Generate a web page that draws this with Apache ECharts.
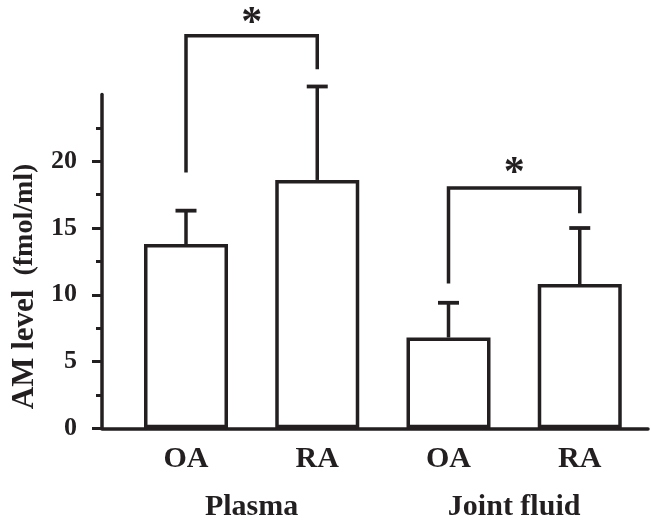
<!DOCTYPE html>
<html>
<head>
<meta charset="utf-8">
<script src="https://cdn.jsdelivr.net/npm/echarts@6/dist/echarts.min.js"></script>
<style>
html,body{margin:0;padding:0;background:#fff;}
#chart{width:651px;height:523px;}
</style>
</head>
<body>
<div id="chart"></div>
<script>
// ---- data ----
const categories = ['OA', 'RA', 'OA', 'RA'];
const categoryPos = [1, 2, 3, 4];
const groups = ['Plasma', 'Joint fluid'];
const groupPos = [1.5, 3.5];
const means = [13.8, 18.6, 6.8, 10.8];
const upperError = [16.3, 25.6, 9.4, 15.0];
const yTickLabels = [0, 5, 10, 15, 20];
// significance brackets
const bracketFrom = [1, 3];
const bracketTo = [2, 4];
const bracketTop = [29.4, 18.0];
const bracketLeftEnd = [19.15, 10.85];
const bracketRightEnd = [26.9, 16.1];
const starY = [30.3, 19.0];
const starText = ['*', '*'];

const INK = '#231f20';
const FONT = 'Liberation Serif';

const barData = categoryPos.map((x, i) => [x, means[i]]);
const errData = categoryPos.map((x, i) => [x, means[i], upperError[i]]);
const bracketData = bracketFrom.map((x, i) => [x, bracketTo[i], bracketTop[i], bracketLeftEnd[i], bracketRightEnd[i], starY[i]]);

const chart = echarts.init(document.getElementById('chart'));
const xMin = 0.36, xMax = 4.52;

chart.setOption({
  animation: false,
  backgroundColor: '#fff',
  grid: { left: 102, right: 3, top: 94.5, bottom: 94.7, outerBoundsMode: 'none' },
  xAxis: [
    {
      type: 'value', min: xMin, max: xMax, position: 'bottom',
      axisLine: { show: true, onZero: false, lineStyle: { color: INK, width: 3.5 } },
      axisTick: { show: false },
      splitLine: { show: false },
      axisLabel: {
        customValues: categoryPos,
        formatter: v => categories[categoryPos.indexOf(Math.round(v))],
        margin: 16, color: INK, fontFamily: FONT, fontWeight: 'bold', fontSize: 30
      }
    },
    {
      type: 'value', min: xMin, max: xMax, position: 'bottom', offset: 0,
      axisLine: { show: false },
      axisTick: { show: false },
      splitLine: { show: false },
      axisLabel: {
        customValues: groupPos,
        formatter: v => groups[groupPos.indexOf(v)],
        margin: 64, color: INK, fontFamily: FONT, fontWeight: 'bold', fontSize: 30
      }
    }
  ],
  yAxis: {
    type: 'value', min: 0, max: 25, interval: 5,
    axisLine: { show: true, onZero: false, lineStyle: { color: INK, width: 3.5 } },
    axisTick: { show: true, customValues: yTickLabels, length: 10, lineStyle: { color: INK, width: 3 } },
    minorTick: { show: true, splitNumber: 2, length: 6, lineStyle: { color: INK, width: 3 } },
    splitLine: { show: false },
    minorSplitLine: { show: false },
    axisLabel: {
      customValues: yTickLabels,
      margin: 25, color: INK, fontFamily: FONT, fontWeight: 'bold', fontSize: 26
    },
    name: '{a|AM level}  {b|(fmol/ml)}',
    nameLocation: 'middle',
    nameGap: 58,
    nameTextStyle: {
      color: INK, fontFamily: FONT, fontWeight: 'bold', fontSize: 28,
      padding: [0, 50, 0, 0],
      rich: {
        a: { fontFamily: FONT, fontWeight: 'bold', fontSize: 31, color: INK },
        b: { fontFamily: FONT, fontWeight: 'bold', fontSize: 28, color: INK }
      }
    }
  },
  series: [
    {
      type: 'bar',
      data: barData,
      barWidth: 84,
      itemStyle: { color: '#fff', borderColor: INK, borderWidth: 3.5 },
      z: 2
    },
    {
      type: 'custom',
      clip: false,
      data: errData,
      z: 3,
      renderItem: (params, api) => {
        const x = api.value(0);
        const p0 = api.coord([x, api.value(1)]);
        const p1 = api.coord([x, api.value(2)]);
        const half = 10.5;
        return {
          type: 'group',
          children: [
            { type: 'line', shape: { x1: p0[0], y1: p0[1], x2: p1[0], y2: p1[1] }, style: { stroke: INK, lineWidth: 3.5 } },
            { type: 'line', shape: { x1: p1[0] - half, y1: p1[1], x2: p1[0] + half, y2: p1[1] }, style: { stroke: INK, lineWidth: 3.8 } }
          ]
        };
      }
    },
    {
      type: 'custom',
      clip: false,
      data: bracketData,
      z: 3,
      renderItem: (params, api) => {
        const x1 = api.value(0), x2 = api.value(1);
        const top = api.value(2);
        const a = api.coord([x1, api.value(3)]);
        const b = api.coord([x1, top]);
        const c = api.coord([x2, top]);
        const d = api.coord([x2, api.value(4)]);
        const s = api.coord([(x1 + x2) / 2, api.value(5)]);
        return {
          type: 'group',
          children: [
            { type: 'polyline', shape: { points: [a, b, c, d] }, style: { stroke: INK, lineWidth: 3.5, fill: null, lineJoin: 'miter' } },
            { type: 'text', x: s[0], y: s[1], style: { text: starText[params.dataIndex], fill: INK, font: 'bold 42px "Liberation Serif"', align: 'center', verticalAlign: 'middle' } }
          ]
        };
      }
    }
  ]
});
</script>
</body>
</html>
